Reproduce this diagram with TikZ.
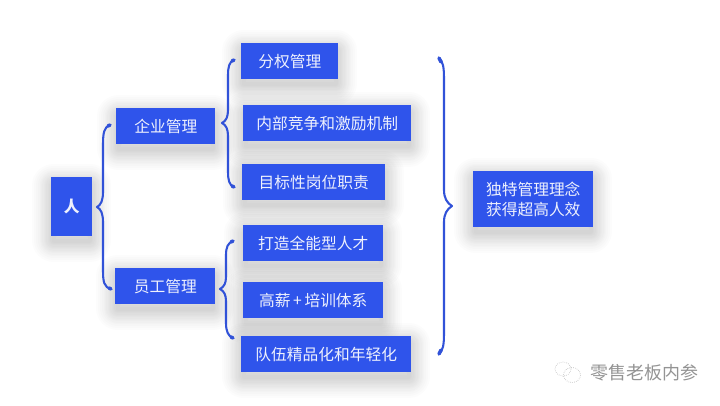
\documentclass[tikz,border=0pt]{standalone}
\usepackage{fontspec}
\usetikzlibrary{backgrounds}
\setmainfont{Noto Sans CJK SC}
\definecolor{boxblue}{HTML}{2F54EB}
\definecolor{bracecol}{HTML}{3152D8}
\definecolor{softwhite}{HTML}{EEF1FD}
\tikzset{
  bluebox/.style={fill=boxblue,text=softwhite,inner sep=0pt,anchor=north west,align=center,font=\fontsize{11.8pt}{15pt}\selectfont},
  shadowlayer/.style={draw=black,draw opacity=.0135,line join=round,fill=none},
  bracestroke/.style={draw=bracecol,line width=1.55pt,line cap=round,line join=round},
  braceend/.style={draw=bracecol,line width=2.6pt,line cap=round},
  iconline/.style={draw=black!30,line width=.45pt,densely dotted}
}
\begin{document}
\begin{tikzpicture}[x=.75pt,y=-.75pt]
\useasboundingbox (0,0) rectangle (720,405);
\node[bluebox,minimum width=30.75pt,minimum height=44.25pt] (ren) at (51,177) {\bfseries 人};
\node[bluebox,minimum width=74.25pt,minimum height=27pt] (qy) at (116,108) {企业管理};
\node[bluebox,minimum width=75pt,minimum height=27pt] (yg) at (115,268) {员工管理};
\node[bluebox,minimum width=72.75pt,minimum height=27pt] (a1) at (241,43) {分权管理};
\node[bluebox,minimum width=126pt,minimum height=27pt] (a2) at (243,105) {内部竞争和激励机制};
\node[bluebox,minimum width=107.25pt,minimum height=27pt] (a3) at (242,164) {目标性岗位职责};
\node[bluebox,minimum width=105pt,minimum height=27pt] (b1) at (243,225) {打造全能型人才};
\node[bluebox,minimum width=105pt,minimum height=27pt] (b2) at (243,282) {高薪\,+\,培训体系};
\node[bluebox,minimum width=127.5pt,minimum height=27pt] (b3) at (241,336) {队伍精品化和年轻化};
\node[bluebox,minimum width=90pt,minimum height=42pt] (res) at (473,171) {独特管理理念\\获得超高人效};
\begin{scope}[on background layer]
\fill[white] (0,0) rectangle (720,405);
\foreach \n in {ren,qy,yg,a1,a2,a3,b1,b2,b3,res}{
  \foreach \w in {3,5,7,9,11,13,15,17,19,21,23,26,29,32}{
    \draw[shadowlayer,line width=\w pt] ([shift={(2pt,-6pt)}]\n.north west) rectangle ([shift={(-2pt,-3pt)}]\n.south east);
  }
}
\end{scope}
% braces
\coordinate (t1) at (97,207);
\draw[bracestroke] (110,125) .. controls (104,127) and (103,133) .. (103,145) -- (103,192) .. controls (103,200) and (101,205) .. (t1) .. controls (101,209) and (103,214) .. (103,222) -- (103,270) .. controls (103,282) and (104,287) .. (111,289);
\draw[braceend] (110,125) -- (108,126);
\draw[braceend] (111,289) -- (109,288);
\coordinate (t2) at (222,123);
\draw[bracestroke] (234,60) .. controls (229,62) and (228,67) .. (228,76) -- (228,110) .. controls (228,117) and (226,121) .. (t2) .. controls (226,125) and (228,129) .. (228,136) -- (228,171) .. controls (228,180) and (229,185) .. (234,187);
\draw[braceend] (234,60) -- (232,61);
\draw[braceend] (234,187) -- (232,186);
\coordinate (t3) at (220,289);
\draw[bracestroke] (233,241) .. controls (228,243) and (226,247) .. (226,255) -- (226,277) .. controls (226,283) and (224,287) .. (t3) .. controls (224,291) and (226,295) .. (226,301) -- (226,323) .. controls (226,331) and (228,336) .. (233,338);
\draw[braceend] (233,241) -- (231,242);
\draw[braceend] (233,338) -- (231,337);
\coordinate (t4) at (452,206);
\draw[bracestroke] (439,58) .. controls (443,62) and (444,66) .. (444,80) -- (444,190) .. controls (444,198) and (447,203) .. (t4) .. controls (447,209) and (444,214) .. (444,222) -- (444,332) .. controls (444,346) and (443,350) .. (439,354);
\draw[braceend] (439,58) -- (441,62);
\draw[braceend] (439,354) -- (441,350);
% watermark
\node[text=black!42,font=\fontsize{13.5pt}{15pt}\selectfont,inner sep=0pt,anchor=west] (wm) at (590,373) {零售老板内参};
\draw[iconline] (563,369) ellipse[x radius=8,y radius=7];
\draw[iconline] (572,375) ellipse[x radius=8.5,y radius=7.5];
\end{tikzpicture}
\end{document}
